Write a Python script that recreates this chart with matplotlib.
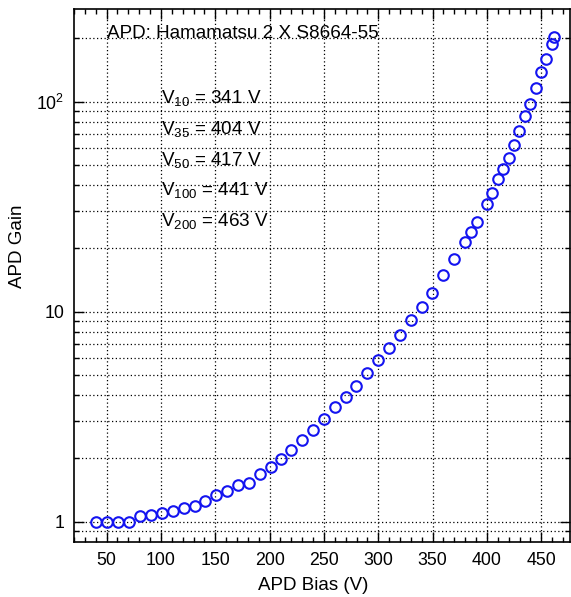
import matplotlib
matplotlib.use("Agg")
import matplotlib.pyplot as plt
from matplotlib.ticker import FixedLocator, FuncFormatter, NullFormatter

plt.rcParams["font.family"] = ["Liberation Sans", "DejaVu Sans"]
plt.rcParams["mathtext.fontset"] = "custom"
plt.rcParams["mathtext.rm"] = "Liberation Sans"
plt.rcParams["mathtext.it"] = "Liberation Sans:italic"
plt.rcParams["mathtext.default"] = "regular"

# Measured gain vs. reverse bias
bias_v = [40.5, 50.5, 60.4, 70.2, 80.9, 91.0, 100.8, 111.0, 120.8, 130.9,
          140.7, 150.8, 160.9, 171.0, 180.9, 191.0, 201.1, 210.3, 219.8, 229.9,
          240.0, 249.8, 259.9, 270.0, 279.9, 290.0, 299.7, 309.9, 320.0, 330.1,
          339.9, 349.4, 359.5, 369.4, 379.8, 385.6, 390.5, 399.7, 404.6, 410.5,
          414.7, 419.9, 424.8, 429.8, 434.6, 439.9, 444.8, 450.0, 454.6, 459.8,
          461.6]
gain = [1.00, 1.00, 1.00, 1.00, 1.068, 1.07, 1.10, 1.128, 1.158, 1.192,
        1.259, 1.336, 1.40, 1.496, 1.53, 1.68, 1.83, 1.99, 2.19, 2.45,
        2.74, 3.09, 3.51, 3.93, 4.44, 5.11, 5.87, 6.74, 7.77, 9.13,
        10.56, 12.32, 14.9, 17.77, 21.4, 24.0, 26.8, 32.7, 36.6, 42.7,
        47.6, 53.8, 62.2, 72.5, 85.2, 97.8, 116.2, 139.0, 160.2, 188.9,
        202.6]

x_ticks = [50, 100, 150, 200, 250, 300, 350, 400, 450]
y_major = [1, 10, 100]
y_labels = {1: "1", 10: "10", 100: "$10^2$"}
y_minor = [0.9] + [m * 10 ** e for e in range(0, 3) for m in range(2, 10)
                   if m * 10 ** e < 276]

title_text = "APD: Hamamatsu 2 X S8664-55"
voltage_notes = ["V$_{10}$ = 341 V", "V$_{35}$ = 404 V", "V$_{50}$ = 417 V",
                 "V$_{100}$ = 441 V", "V$_{200}$ = 463 V"]

fig = plt.figure(figsize=(5.71, 5.97), dpi=100)
ax = fig.add_axes([74 / 571, 1 - 542 / 597, 495.5 / 571, 533 / 597])

ax.set_yscale("log")
ax.set_xlim(20, 476)
ax.set_ylim(0.80, 276)

ax.plot(bias_v, gain, linestyle="none", marker="o", markersize=7.6,
        markerfacecolor="none", markeredgecolor="#1414f0",
        markeredgewidth=1.5, zorder=3)

ax.xaxis.set_major_locator(FixedLocator(x_ticks))
ax.xaxis.set_minor_locator(FixedLocator(range(20, 480, 10)))
ax.yaxis.set_major_locator(FixedLocator(y_major))
ax.yaxis.set_minor_locator(FixedLocator(y_minor))
ax.yaxis.set_major_formatter(FuncFormatter(lambda v, p: y_labels.get(int(round(v)), "")))
ax.yaxis.set_minor_formatter(NullFormatter())

grid_style = dict(color="black", linewidth=0.9, linestyle=(0, (1, 2.0)))
ax.grid(True, which="major", axis="both", **grid_style)
ax.grid(True, which="minor", axis="y", **grid_style)

ax.tick_params(which="both", direction="in", top=True, right=True,
               colors="black", labelsize=12.8, width=1.0)
ax.tick_params(which="major", length=7, pad=7)
ax.tick_params(which="minor", length=3.6)
for s in ax.spines.values():
    s.set_linewidth(1.2)

ax.set_xlabel("APD Bias (V)", fontsize=13.5)
ax.set_ylabel("APD Gain", fontsize=13.5)
ax.xaxis.set_label_coords((313 - 74) / 495.5, -(585 - 542) / 533)
ax.xaxis.label.set_va("center")
ax.yaxis.set_label_coords((18 - 74) / 495.5, (542 - 246.5) / 533)
ax.yaxis.label.set_va("center")

ax.text((107 - 74) / 495.5, (542 - 33) / 533, title_text, transform=ax.transAxes,
        fontsize=13.6, ha="left", va="center")
for i, note in enumerate(voltage_notes):
    ypix = 98 + i * 30.8
    ax.text((161 - 74) / 495.5, (542 - ypix) / 533, note, transform=ax.transAxes,
            fontsize=13.6, ha="left", va="center")

fig.savefig("out.png", dpi=100)
